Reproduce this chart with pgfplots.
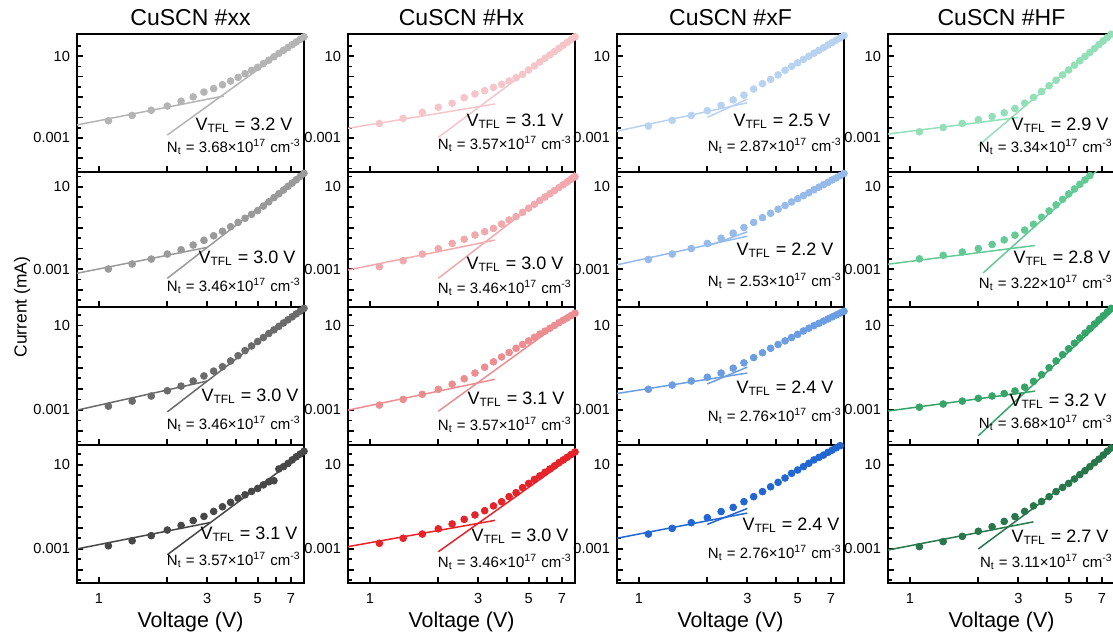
\documentclass[border=0pt]{standalone}
\usepackage{fontspec}
\setmainfont{Liberation Sans}
\usepackage{pgfplots}
\pgfplotsset{compat=1.18}

\definecolor{a1}{HTML}{B4B4B4}
\definecolor{a2}{HTML}{9A9A9A}
\definecolor{a3}{HTML}{6B6B6B}
\definecolor{a4}{HTML}{474747}
\definecolor{b1}{HTML}{F5C5C9}
\definecolor{b2}{HTML}{F1A9AD}
\definecolor{b3}{HTML}{EC8D91}
\definecolor{b4}{HTML}{E52328}
\definecolor{c1}{HTML}{B8D2F2}
\definecolor{c2}{HTML}{96BAEA}
\definecolor{c3}{HTML}{6B9DE2}
\definecolor{c4}{HTML}{2266D2}
\definecolor{d1}{HTML}{93DFB7}
\definecolor{d2}{HTML}{63CA96}
\definecolor{d3}{HTML}{35A468}
\definecolor{d4}{HTML}{27774B}

\pgfplotsset{
  pan/.style={
    anchor=north west, scale only axis, width=113.5pt,
    xmin=0.8, xmax=8,
    axis line style={line width=1pt},
    xtick={1,2,3,4,5,6,7}, xticklabels={}, minor xtick={},
    ytick={1e-4,1e-3,1e-2,1e-1,1,10}, yticklabels={,0.001,,,,10},
    minor ytick={3.16e-5,3.16e-4,3.16e-3,3.16e-2,0.316,3.16,31.6},
    xtick pos=bottom, ytick pos=left, tick align=inside,
    major tick length=2.8pt, minor tick length=2pt,
    tick style={line width=0.9pt, black},
    minor tick style={line width=0.8pt},
    tick label style={font=\fontsize{7.3}{8.5}\selectfont},
    xticklabel style={yshift=-1.5pt},
  },
  rA/.style={height=68.85pt, ymin=2.24e-5, ymax=120},
  rB/.style={height=67.5pt, ymin=1.51e-5, ymax=53.7},
  rC/.style={height=69.15pt, ymin=2.19e-5, ymax=77.6},
  rD/.style={height=69pt, ymin=2.34e-5, ymax=87.1, xticklabels={1,,3,,5,,7}},
  pts/.style={only marks, mark=*, mark size=1.7pt},
  fl/.style={no marks, line width=0.75pt},
}

\newcommand\vt[3]{\node[font=\fontsize{9}{10}\selectfont, inner sep=0pt] at (#1,#2) {V\textsubscript{TFL} = #3 V};}
\newcommand\nt[3]{\node[font=\fontsize{7.5}{9}\selectfont, anchor=east, inner sep=0pt] at (#1,#2) {N\textsubscript{t} = #3×10\textsuperscript{17} cm\textsuperscript{-3}};}

\begin{document}
\begin{tikzpicture}
\path[use as bounding box] (0,0) rectangle (556.5pt,-320pt);

% ---------------- column 1 : #xx ----------------
\begin{axis}[xmode=log, ymode=log, pan, rA, at={(38.5pt,-17pt)}]
\addplot[pts, color=a1] coordinates {(1.1,6.9e-3)(1.4,1.26e-2)(1.7,2.24e-2)(2.0,3.63e-2)(2.3,6.2e-2)(2.6,0.102)(2.9,0.174)(3.2,0.257)(3.5,0.398)(3.8,0.603)(4.1,0.912)(4.4,1.38)(4.7,2.0)(5.0,2.82)(5.3,4.27)(5.6,6.3)(5.9,9.3)(6.2,13.5)(6.5,19.1)(6.8,26.3)(7.1,36.3)(7.4,49)(7.7,66)(8.0,87)};
\addplot[fl, color=a1] coordinates {(0.8,4.3e-3)(3.55,0.112)};
\addplot[fl, color=a1] coordinates {(2.0,1.38e-3)(8.0,93)};
\end{axis}
\begin{axis}[xmode=log, ymode=log, pan, rB, at={(38.5pt,-85.85pt)}]
\addplot[pts, color=a2] coordinates {(1.1,1.02e-3)(1.4,1.78e-3)(1.7,3.1e-3)(2.0,5.4e-3)(2.3,8.7e-3)(2.6,1.48e-2)(2.9,2.51e-2)(3.2,4.17e-2)(3.5,6.9e-2)(3.8,0.115)(4.1,0.186)(4.4,0.295)(4.7,0.457)(5.0,0.692)(5.3,1.15)(5.6,1.86)(5.9,2.95)(6.2,4.57)(6.5,6.9)(6.8,10.5)(7.1,15.1)(7.4,21.9)(7.7,31.6)(8.0,44.7)};
\addplot[fl, color=a2] coordinates {(0.8,6.3e-4)(3.0,1.15e-2)};
\addplot[fl, color=a2] coordinates {(2.0,3.6e-4)(8.0,48)};
\end{axis}
\begin{axis}[xmode=log, ymode=log, pan, rC, at={(38.5pt,-153.35pt)}]
\addplot[pts, color=a3] coordinates {(1.1,1.51e-3)(1.4,2.63e-3)(1.7,4.57e-3)(2.0,8.1e-3)(2.3,1.35e-2)(2.6,2.34e-2)(2.9,4.07e-2)(3.2,6.9e-2)(3.5,0.112)(3.8,0.209)(4.1,0.372)(4.4,0.646)(4.7,1.07)(5.0,1.74)(5.3,2.69)(5.6,4.17)(5.9,6.2)(6.2,9.1)(6.5,13.2)(6.8,18.6)(7.1,25.7)(7.4,35.5)(7.7,47.9)(8.0,64.6)};
\addplot[fl, color=a3] coordinates {(0.8,9.8e-4)(3.0,2.34e-2)};
\addplot[fl, color=a3] coordinates {(2.0,8.1e-4)(8.0,79)};
\end{axis}
\begin{axis}[xmode=log, ymode=log, pan, rD, at={(38.5pt,-222.5pt)}]
\addplot[pts, color=a4] coordinates {(1.1,1.38e-3)(1.4,2.4e-3)(1.7,4.2e-3)(2.0,7.8e-3)(2.3,1.29e-2)(2.6,2.19e-2)(2.9,3.47e-2)(3.2,6.0e-2)(3.5,0.100)(3.8,0.162)(4.1,0.251)(4.4,0.372)(4.7,0.537)(5.0,0.741)(5.3,1.10)(5.6,1.55)(5.9,1.74)(6.2,6.3)(6.5,8.1)(6.8,11.5)(7.1,17.0)(7.4,24.0)(7.7,32.4)(8.0,43.7)};
\addplot[fl, color=a4] coordinates {(0.8,9.8e-4)(3.1,1.78e-2)};
\addplot[fl, color=a4] coordinates {(2.0,5.2e-4)(8.0,37)};
\end{axis}

% ---------------- column 2 : #Hx ----------------
\begin{axis}[xmode=log, ymode=log, pan, rA, at={(174pt,-17pt)}]
\addplot[pts, color=b1] coordinates {(1.1,5.1e-3)(1.4,9.1e-3)(1.7,1.78e-2)(2.0,3.16e-2)(2.3,4.9e-2)(2.6,9.3e-2)(2.9,0.141)(3.2,0.204)(3.5,0.295)(3.8,0.417)(4.1,0.603)(4.4,0.871)(4.7,1.29)(5.0,2.09)(5.3,3.31)(5.6,5.1)(5.9,7.8)(6.2,11.5)(6.5,16.6)(6.8,24.0)(7.1,33.9)(7.4,46.8)(7.7,64.6)(8.0,87)};
\addplot[fl, color=b1] coordinates {(0.8,2.95e-3)(3.55,4.57e-2)};
\addplot[fl, color=b1] coordinates {(2.0,1.07e-3)(8.0,100)};
\end{axis}
\begin{axis}[xmode=log, ymode=log, pan, rB, at={(174pt,-85.85pt)}]
\addplot[pts, color=b2] coordinates {(1.1,1.32e-3)(1.4,2.57e-3)(1.7,5.4e-3)(2.0,9.8e-3)(2.3,1.78e-2)(2.6,2.82e-2)(2.9,4.57e-2)(3.2,6.6e-2)(3.5,9.5e-2)(3.8,0.155)(4.1,0.245)(4.4,0.355)(4.7,0.575)(5.0,0.912)(5.3,1.41)(5.6,2.14)(5.9,3.16)(6.2,4.57)(6.5,6.5)(6.8,9.1)(7.1,12.6)(7.4,17.0)(7.7,22.9)(8.0,30.2)};
\addplot[fl, color=b2] coordinates {(0.8,9.1e-4)(3.55,2.57e-2)};
\addplot[fl, color=b2] coordinates {(2.0,3.6e-4)(8.0,48)};
\end{axis}
\begin{axis}[xmode=log, ymode=log, pan, rC, at={(174pt,-153.35pt)}]
\addplot[pts, color=b3] coordinates {(1.1,1.70e-3)(1.4,3.16e-3)(1.7,5.5e-3)(2.0,9.5e-3)(2.3,1.66e-2)(2.6,3.0e-2)(2.9,5.6e-2)(3.2,0.105)(3.5,0.19)(3.8,0.324)(4.1,0.525)(4.4,0.832)(4.7,1.26)(5.0,1.86)(5.3,2.75)(5.6,3.89)(5.9,5.4)(6.2,7.4)(6.5,10.0)(6.8,13.5)(7.1,17.8)(7.4,22.9)(7.7,29.5)(8.0,38.0)};
\addplot[fl, color=b3] coordinates {(0.8,9.8e-4)(3.55,2.82e-2)};
\addplot[fl, color=b3] coordinates {(2.0,8.7e-4)(8.0,42.7)};
\end{axis}
\begin{axis}[xmode=log, ymode=log, pan, rD, at={(174pt,-222.5pt)}]
\addplot[pts, color=b4] coordinates {(1.1,1.82e-3)(1.4,3.16e-3)(1.7,5.0e-3)(2.0,8.9e-3)(2.3,1.51e-2)(2.6,2.51e-2)(2.9,4.07e-2)(3.2,6.5e-2)(3.5,0.110)(3.8,0.174)(4.1,0.302)(4.4,0.468)(4.7,0.813)(5.0,1.29)(5.3,2.0)(5.6,2.95)(5.9,4.37)(6.2,6.3)(6.5,8.9)(6.8,12.6)(7.1,17.0)(7.4,22.9)(7.7,30.9)(8.0,40.7)};
\addplot[fl, color=b4] coordinates {(0.8,1.26e-3)(3.55,2.24e-2)};
\addplot[fl, color=b4] coordinates {(2.0,7.2e-4)(8.0,31)};
\end{axis}

% ---------------- column 3 : #xF ----------------
\begin{axis}[xmode=log, ymode=log, pan, rA, at={(308.5pt,-17pt)}]
\addplot[pts, color=c1] coordinates {(1.1,3.8e-3)(1.4,7.2e-3)(1.7,1.26e-2)(2.0,2.14e-2)(2.3,3.9e-2)(2.6,7.2e-2)(2.9,0.123)(3.2,0.245)(3.5,0.447)(3.8,0.724)(4.1,1.20)(4.4,2.04)(4.7,3.16)(5.0,4.68)(5.3,6.9)(5.6,9.8)(5.9,13.8)(6.2,19.1)(6.5,25.7)(6.8,34.7)(7.1,45.7)(7.4,60.3)(7.7,77.6)(8.0,100)};
\addplot[fl, color=c1] coordinates {(0.8,2.14e-3)(3.0,5.2e-2)};
\addplot[fl, color=c1] coordinates {(2.0,1.02e-2)(3.0,7.8e-2)};
\end{axis}
\begin{axis}[xmode=log, ymode=log, pan, rB, at={(308.5pt,-85.85pt)}]
\addplot[pts, color=c2] coordinates {(1.1,2.95e-3)(1.4,5.4e-3)(1.7,1.0e-2)(2.0,1.78e-2)(2.3,3.16e-2)(2.6,5.6e-2)(2.9,0.105)(3.2,0.186)(3.5,0.316)(3.8,0.513)(4.1,0.813)(4.4,1.23)(4.7,1.82)(5.0,2.63)(5.3,3.72)(5.6,5.1)(5.9,7.1)(6.2,9.5)(6.5,12.6)(6.8,16.2)(7.1,21.4)(7.4,26.9)(7.7,34.7)(8.0,43.7)};
\addplot[fl, color=c2] coordinates {(0.8,1.62e-3)(3.0,3.98e-2)};
\addplot[fl, color=c2] coordinates {(2.0,1.29e-2)(3.0,6.5e-2)};
\end{axis}
\begin{axis}[xmode=log, ymode=log, pan, rC, at={(308.5pt,-153.35pt)}]
\addplot[pts, color=c3] coordinates {(1.1,9.5e-3)(1.4,1.51e-2)(1.7,2.34e-2)(2.0,3.55e-2)(2.3,5.6e-2)(2.6,9.5e-2)(2.9,0.170)(3.2,0.302)(3.5,0.513)(3.8,0.832)(4.1,1.26)(4.4,1.86)(4.7,2.69)(5.0,3.80)(5.3,5.5)(5.6,7.4)(5.9,9.8)(6.2,12.6)(6.5,16.2)(6.8,20.4)(7.1,25.7)(7.4,31.6)(7.7,38.9)(8.0,46.8)};
\addplot[fl, color=c3] coordinates {(0.8,6.0e-3)(3.0,5.6e-2)};
\addplot[fl, color=c3] coordinates {(2.0,1.70e-2)(3.0,0.107)};
\end{axis}
\begin{axis}[xmode=log, ymode=log, pan, rD, at={(308.5pt,-222.5pt)}]
\addplot[pts, color=c4] coordinates {(1.1,5.0e-3)(1.4,9.3e-3)(1.7,1.74e-2)(2.0,3.02e-2)(2.3,5.9e-2)(2.6,9.3e-2)(2.9,0.174)(3.2,0.302)(3.5,0.525)(3.8,0.891)(4.1,1.45)(4.4,2.34)(4.7,3.89)(5.0,5.6)(5.3,8.1)(5.6,11.7)(5.9,17.0)(6.2,22.4)(6.5,28.8)(6.8,38.9)(7.1,50)(7.4,64.6)(7.7,81)(8.0,100)};
\addplot[fl, color=c4] coordinates {(0.8,3.16e-3)(3.0,5.0e-2)};
\addplot[fl, color=c4] coordinates {(2.0,1.45e-2)(3.0,8.3e-2)};
\end{axis}

% ---------------- column 4 : #HF ----------------
\begin{axis}[xmode=log, ymode=log, pan, rA, at={(444pt,-17pt)}]
\addplot[pts, color=d1] coordinates {(1.1,2.0e-3)(1.4,3.24e-3)(1.7,5.1e-3)(2.0,7.8e-3)(2.3,1.12e-2)(2.6,1.70e-2)(2.9,2.75e-2)(3.2,5.0e-2)(3.5,9.5e-2)(3.8,0.186)(4.1,0.355)(4.4,0.661)(4.7,1.20)(5.0,2.09)(5.3,3.55)(5.6,5.9)(5.9,9.5)(6.2,15.1)(6.5,23.4)(6.8,36.3)(7.1,55)(7.4,81)(7.7,117)(8.0,166)};
\addplot[fl, color=d1] coordinates {(0.8,1.55e-3)(3.0,1.0e-2)};
\addplot[fl, color=d1] coordinates {(2.0,4.2e-4)(8.0,190)};
\end{axis}
\begin{axis}[xmode=log, ymode=log, pan, rB, at={(444pt,-85.85pt)}]
\addplot[pts, color=d2] coordinates {(1.1,3.16e-3)(1.4,4.7e-3)(1.7,6.8e-3)(2.0,1.0e-2)(2.3,1.58e-2)(2.6,2.63e-2)(2.9,4.47e-2)(3.2,7.9e-2)(3.5,0.151)(3.8,0.331)(4.1,0.676)(4.4,1.32)(4.7,2.45)(5.0,4.47)(5.3,7.8)(5.6,13.2)(5.9,21.4)(6.2,34.7)(6.5,54)(6.8,83)(7.1,126)(7.4,186)(7.7,269)(8.0,389)};
\addplot[fl, color=d2] coordinates {(0.8,1.74e-3)(3.55,1.41e-2)};
\addplot[fl, color=d2] coordinates {(2.1,6.6e-4)(8.0,370)};
\end{axis}
\begin{axis}[xmode=log, ymode=log, pan, rC, at={(444pt,-153.35pt)}]
\addplot[pts, color=d3] coordinates {(1.1,1.35e-3)(1.4,1.91e-3)(1.7,2.63e-3)(2.0,3.55e-3)(2.3,4.57e-3)(2.6,6.0e-3)(2.9,7.9e-3)(3.2,1.20e-2)(3.5,2.24e-2)(3.8,4.68e-2)(4.1,0.100)(4.4,0.209)(4.7,0.417)(5.0,0.794)(5.3,1.45)(5.6,2.57)(5.9,4.37)(6.2,7.2)(6.5,11.7)(6.8,18.6)(7.1,28.8)(7.4,43.7)(7.7,64.6)(8.0,93)};
\addplot[fl, color=d3] coordinates {(0.8,8.9e-4)(3.55,7.8e-3)};
\addplot[fl, color=d3] coordinates {(2.0,6.0e-5)(8.0,63)};
\end{axis}
\begin{axis}[xmode=log, ymode=log, pan, rD, at={(444pt,-222.5pt)}]
\addplot[pts, color=d4] coordinates {(1.1,1.26e-3)(1.4,2.19e-3)(1.7,3.9e-3)(2.0,6.8e-3)(2.3,1.12e-2)(2.6,2.0e-2)(2.9,3.39e-2)(3.2,6.0e-2)(3.5,0.110)(3.8,0.178)(4.1,0.302)(4.4,0.525)(4.7,0.832)(5.0,1.29)(5.3,2.09)(5.6,3.39)(5.9,5.2)(6.2,8.1)(6.5,12.6)(6.8,18.6)(7.1,28.8)(7.4,43.7)(7.7,63)(8.0,89)};
\addplot[fl, color=d4] coordinates {(0.8,8.7e-4)(3.5,1.91e-2)};
\addplot[fl, color=d4] coordinates {(2.0,9.8e-4)(8.0,65)};
\end{axis}

% ---------------- texts ----------------
\begin{scope}[x=0.5pt,y=-0.5pt]
\foreach \cx/\t in {190.5/xx, 461.5/Hx, 730.5/xF, 1001.5/HF}{
  \node[font=\fontsize{11.5}{13}\selectfont] at (\cx,18) {CuSCN \#\t};
  \node[font=\fontsize{10.7}{12}\selectfont] at (\cx,622) {Voltage (V)};
}
\node[rotate=90, font=\fontsize{8.7}{10}\selectfont] at (22,307) {Current (mA)};

\vt{244}{125}{3.2} \nt{301}{147}{3.68}
\vt{247}{258}{3.0} \nt{301}{286}{3.46}
\vt{250}{396}{3.0} \nt{301}{424}{3.46}
\vt{249}{534}{3.1} \nt{301}{560}{3.57}

\vt{515}{121}{3.1} \nt{572}{144}{3.57}
\vt{515}{264}{3.0} \nt{572}{288}{3.46}
\vt{516}{399}{3.1} \nt{572}{425}{3.57}
\vt{520}{536}{3.0} \nt{572}{562}{3.46}

\vt{782}{121}{2.5} \nt{842}{146}{2.87}
\vt{785}{250}{2.2} \nt{842}{281}{2.53}
\vt{785}{388}{2.4} \nt{842}{416}{2.76}
\vt{791}{525}{2.4} \nt{842}{553}{2.76}

\vt{1060}{125}{2.9} \nt{1113}{147}{3.34}
\vt{1062}{258}{2.8} \nt{1113}{283}{3.22}
\vt{1058}{401}{3.2} \nt{1113}{423}{3.68}
\vt{1060}{537}{2.7} \nt{1113}{562}{3.11}
\end{scope}
\end{tikzpicture}
\end{document}
